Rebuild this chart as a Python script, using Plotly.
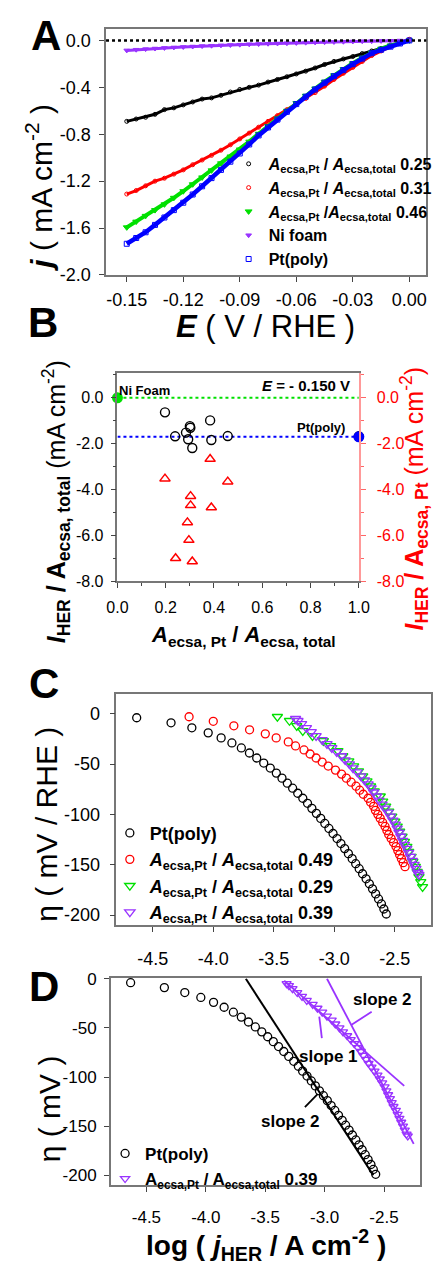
import plotly.graph_objects as go

FONT = "Arial, Liberation Sans, sans-serif"
W, H = 443, 1270

# ---------------- Panel A: polarisation curves ----------------
E_A = [-0.150, -0.145, -0.140, -0.135, -0.130, -0.125, -0.120, -0.115, -0.110, -0.105,
       -0.100, -0.095, -0.090, -0.085, -0.080, -0.075, -0.070, -0.065, -0.060, -0.055,
       -0.050, -0.045, -0.040, -0.035, -0.030, -0.025, -0.020, -0.015, -0.010, -0.005, 0.000]
j_025 = [-0.69, -0.67, -0.655, -0.63, -0.59, -0.575, -0.55, -0.525, -0.50, -0.49,
         -0.468, -0.44, -0.418, -0.40, -0.381, -0.355, -0.333, -0.31, -0.286, -0.262,
         -0.235, -0.205, -0.179, -0.158, -0.137, -0.112, -0.09, -0.068, -0.045, -0.022, 0.0]
j_031 = [-1.31, -1.28, -1.24, -1.20, -1.175, -1.14, -1.104, -1.06, -1.02, -0.98,
         -0.936, -0.89, -0.84, -0.79, -0.74, -0.69, -0.641, -0.59, -0.543, -0.495,
         -0.445, -0.39, -0.333, -0.28, -0.23, -0.18, -0.129, -0.09, -0.053, -0.02, 0.01]
j_046 = [-1.594, -1.545, -1.496, -1.447, -1.398, -1.342, -1.286, -1.227, -1.168, -1.108,
         -1.048, -0.99, -0.93, -0.863, -0.796, -0.73, -0.665, -0.60, -0.535, -0.472,
         -0.41, -0.352, -0.297, -0.245, -0.195, -0.148, -0.105, -0.07, -0.043, -0.02, 0.0]
j_ni = [-0.085, -0.079, -0.074, -0.069, -0.064, -0.060, -0.056, -0.052, -0.048, -0.045,
        -0.042, -0.039, -0.036, -0.033, -0.031, -0.028, -0.026, -0.024, -0.021, -0.019,
        -0.017, -0.015, -0.013, -0.011, -0.009, -0.007, -0.006, -0.004, -0.003, -0.001, 0.0]
j_pt = [-1.734, -1.685, -1.636, -1.573, -1.51, -1.447, -1.384, -1.314, -1.244, -1.174,
        -1.104, -1.034, -0.964, -0.887, -0.81, -0.742, -0.675, -0.609, -0.543, -0.48,
        -0.418, -0.36, -0.305, -0.253, -0.202, -0.155, -0.109, -0.08, -0.053, -0.026, 0.0]

# ---------------- Panel B: specific activity at E = -0.150 V ----------------
ratio_total = [0.197, 0.239, 0.284, 0.293, 0.300, 0.302, 0.310, 0.384, 0.389, 0.457, 1.0]
i_total = [-0.66, -1.70, -1.54, -1.83, -1.26, -1.33, -2.21, -1.01, -1.86, -1.69, -1.70]
ratio_pt = [0.197, 0.384, 0.457, 0.303, 0.303, 0.389, 0.290, 0.296, 0.241, 0.310]
i_pt = [-3.54, -2.69, -3.67, -4.30, -4.70, -4.79, -5.44, -6.21, -7.00, -7.14]
ni_foam_i = -0.03
pt_poly_i = -1.72

# ---------------- Panels C / D: Tafel plots ----------------
eta_pt = [-4, -9, -14, -19, -24, -29, -34, -39, -44, -49, -54, -59, -64, -69, -74, -79, -84, -89,
          -94, -99, -104, -109, -114, -119, -124, -129, -134, -139, -144, -149, -154, -159, -164,
          -169, -174, -179, -184, -189, -194, -199]
logj_pt = [-4.633, -4.349, -4.177, -4.042, -3.935, -3.846, -3.768, -3.701, -3.641, -3.583,
           -3.529, -3.479, -3.432, -3.388, -3.344, -3.302, -3.260, -3.221, -3.185, -3.148,
           -3.112, -3.078, -3.044, -3.010, -2.977, -2.945, -2.914, -2.883, -2.852, -2.823,
           -2.794, -2.766, -2.737, -2.710, -2.684, -2.658, -2.634, -2.610, -2.590, -2.570]

eta_049 = [-3, -7.5, -12, -16, -20, -24, -28, -32, -36, -40, -44, -48, -52, -56, -60, -64, -68, -72,
           -76, -80, -84, -88, -92, -96, -100, -104, -108, -112, -116, -120, -124, -128, -132,
           -136, -140, -144, -148, -152]
logj_049 = [-4.20, -4.00, -3.83, -3.70, -3.57, -3.48, -3.38, -3.32, -3.25, -3.20, -3.15, -3.10,
            -3.05, -2.99, -2.94, -2.90, -2.86, -2.82, -2.79, -2.76, -2.72, -2.70, -2.675, -2.66,
            -2.64, -2.62, -2.60, -2.58, -2.565, -2.55, -2.53, -2.51, -2.49, -2.475, -2.46,
            -2.445, -2.43, -2.415]

eta_029 = [-3, -7, -12, -17, -22, -27, -32, -37, -42, -47, -52, -57, -62, -67, -72, -77, -82, -87,
           -92, -97, -102, -107, -112, -117, -122, -127, -132, -137, -142, -147, -152, -157, -162,
           -167, -172]
logj_029 = [-3.47, -3.37, -3.31, -3.26, -3.18, -3.09, -3.03, -2.97, -2.93, -2.88, -2.84, -2.80,
            -2.765, -2.73, -2.70, -2.67, -2.62, -2.60, -2.575, -2.55, -2.525, -2.50, -2.48, -2.46,
            -2.44, -2.42, -2.40, -2.385, -2.365, -2.35, -2.33, -2.315, -2.30, -2.285, -2.27]

eta_039 = [-5, -7, -10, -14, -18, -22, -26, -30, -34, -38, -42, -46, -50, -54, -58, -62, -66, -70,
           -74, -78, -82, -86, -90, -94, -98, -102, -106, -110, -114, -118, -122, -126, -130,
           -134, -138, -142, -146, -150, -154, -158, -160]
logj_039 = [-3.32, -3.30, -3.27, -3.23, -3.19, -3.15, -3.10, -3.06, -3.02, -2.98, -2.94, -2.91,
            -2.875, -2.845, -2.81, -2.78, -2.75, -2.72, -2.695, -2.675, -2.65, -2.63, -2.605,
            -2.58, -2.555, -2.535, -2.515, -2.495, -2.48, -2.465, -2.45, -2.435, -2.42, -2.40,
            -2.385, -2.37, -2.355, -2.34, -2.325, -2.31, -2.30]

# Tafel fit lines (end points)
fit_pt_x, fit_pt_y = [-3.663, -2.59], [0, -200]
fit_s1_x, fit_s1_y = [-3.34, -2.33], [-2, -109]
fit_s2_x, fit_s2_y = [-2.98, -2.25], [0, -168]

# tick labels
A_xt = [-0.15, -0.12, -0.09, -0.06, -0.03, 0.0]
A_xl = ["-0.15", "-0.12", "-0.09", "-0.06", "-0.03", "0.00"]
A_yt = [0.0, -0.4, -0.8, -1.2, -1.6, -2.0]
A_yl = ["0.0", "-0.4", "-0.8", "-1.2", "-1.6", "-2.0"]
B_xt = [0.0, 0.2, 0.4, 0.6, 0.8, 1.0]
B_xl = ["0.0", "0.2", "0.4", "0.6", "0.8", "1.0"]
B_yt = [0.0, -2.0, -4.0, -6.0, -8.0]
B_yl = ["0.0", "-2.0", "-4.0", "-6.0", "-8.0"]
CD_xt = [-4.5, -4.0, -3.5, -3.0, -2.5]
CD_xl = ["-4.5", "-4.0", "-3.5", "-3.0", "-2.5"]
CD_yt = [0, -50, -100, -150, -200]
CD_yl = ["0", "-50", "-100", "-150", "-200"]

BLACK, RED, GREEN, PURPLE, BLUE = "#000000", "#ff0000", "#00e000", "#9933ff", "#0000ff"


def fx(p):
    return p / W


def fy(p):
    return 1 - p / H


def axis(dom, rng, tv, tt, fs, anchor, standoff, **kw):
    d = dict(domain=dom, range=rng, tickmode="array", tickvals=tv, ticktext=tt,
             ticks="outside", ticklen=5, tickwidth=1, tickcolor="#444",
             showline=True, linecolor="#777", linewidth=1.5, mirror=True,
             showgrid=False, zeroline=False, anchor=anchor, fixedrange=True,
             ticklabelstandoff=standoff,
             tickfont=dict(family=FONT, size=fs, color="black"))
    d.update(kw)
    return d


fig = go.Figure()


def sub_a(sep=" / ", italic=True):
    a = "<i>A</i>" if italic else "A"
    return f"{a}<sub>ecsa,Pt</sub>{sep}{a}<sub>ecsa,total</sub>"


# ---- Panel A traces ----
seriesA = [
    (j_025, BLACK, "circle-open", 4, 3, sub_a() + " 0.25"),
    (j_031, RED, "circle-open", 4, 3, sub_a() + " 0.31"),
    (j_046, GREEN, "triangle-down", 6, 4, sub_a(sep=" /") + " 0.46"),
    (j_ni, PURPLE, "triangle-down", 5, 3, "Ni foam"),
    (j_pt, BLUE, "square-open", 5, 4.5, "Pt(poly)"),
]
for ys, col, sym, ms, lw, name in seriesA:
    fig.add_trace(go.Scatter(x=E_A, y=ys, mode="lines+markers", xaxis="x", yaxis="y",
                             line=dict(color=col, width=lw),
                             marker=dict(color=col, symbol=sym, size=ms, line=dict(color=col, width=1)),
                             showlegend=False, cliponaxis=False))
for ys, col, sym, ms, lw, name in seriesA:
    fig.add_trace(go.Scatter(x=[None], y=[None], mode="markers", xaxis="x", yaxis="y",
                             marker=dict(color=col, symbol=sym, size=ms, line=dict(color=col, width=1)),
                             name=name, legend="legend"))

# ---- Panel B traces ----
fig.add_trace(go.Scatter(x=[0, 1], y=[ni_foam_i, ni_foam_i], mode="lines", xaxis="x2", yaxis="y2",
                         line=dict(color=GREEN, width=2, dash="dot"), showlegend=False))
fig.add_trace(go.Scatter(x=[0, 1], y=[pt_poly_i, pt_poly_i], mode="lines", xaxis="x2", yaxis="y2",
                         line=dict(color=BLUE, width=2, dash="dot"), showlegend=False))
fig.add_trace(go.Scatter(x=ratio_total, y=i_total, mode="markers", xaxis="x2", yaxis="y2",
                         marker=dict(symbol="circle-open", size=9, color=BLACK, line=dict(width=1.4)),
                         showlegend=False, cliponaxis=False))
fig.add_trace(go.Scatter(x=[0], y=[ni_foam_i], mode="markers", xaxis="x2", yaxis="y2",
                         marker=dict(symbol="circle", size=11, color=GREEN), showlegend=False,
                         cliponaxis=False))
fig.add_trace(go.Scatter(x=[1], y=[pt_poly_i], mode="markers", xaxis="x2", yaxis="y2",
                         marker=dict(symbol="circle", size=11, color=BLUE), showlegend=False,
                         cliponaxis=False))
fig.add_trace(go.Scatter(x=ratio_pt, y=i_pt, mode="markers", xaxis="x2", yaxis="y5",
                         marker=dict(symbol="triangle-up-open", size=9, color=RED, line=dict(width=1.5)),
                         showlegend=False, cliponaxis=False))

# ---- Panel C traces ----
seriesC = [
    (logj_pt, eta_pt, BLACK, "circle-open", 8, "Pt(poly)"),
    (logj_049, eta_049, RED, "circle-open", 8, sub_a() + " 0.49"),
    (logj_029, eta_029, GREEN, "triangle-down-open", 9, sub_a() + " 0.29"),
    (logj_039, eta_039, PURPLE, "triangle-down-open", 9, sub_a() + " 0.39"),
]
for xs, ys, col, sym, ms, name in seriesC:
    fig.add_trace(go.Scatter(x=xs, y=ys, mode="markers", xaxis="x3", yaxis="y3",
                             marker=dict(symbol=sym, size=ms, color=col, line=dict(width=1.3)),
                             name=name, legend="legend2", cliponaxis=False))

# ---- Panel D traces ----
fig.add_trace(go.Scatter(x=fit_pt_x, y=fit_pt_y, mode="lines", xaxis="x4", yaxis="y4",
                         line=dict(color=BLACK, width=2), showlegend=False))
fig.add_trace(go.Scatter(x=fit_s1_x, y=fit_s1_y, mode="lines", xaxis="x4", yaxis="y4",
                         line=dict(color=PURPLE, width=1.8), showlegend=False))
fig.add_trace(go.Scatter(x=fit_s2_x, y=fit_s2_y, mode="lines", xaxis="x4", yaxis="y4",
                         line=dict(color=PURPLE, width=1.8), showlegend=False))
fig.add_trace(go.Scatter(x=logj_pt, y=eta_pt, mode="markers", xaxis="x4", yaxis="y4",
                         marker=dict(symbol="circle-open", size=8, color=BLACK, line=dict(width=1.3)),
                         name="Pt(poly)", legend="legend3", cliponaxis=False))
fig.add_trace(go.Scatter(x=logj_039, y=eta_039, mode="markers", xaxis="x4", yaxis="y4",
                         marker=dict(symbol="triangle-down-open", size=8, color=PURPLE, line=dict(width=1.3)),
                         name=sub_a(italic=False) + " 0.39", legend="legend3", cliponaxis=False))

# ---- axes ----
fig.update_layout(
    xaxis=axis([fx(100), fx(437)], [-0.161, 0.009], A_xt, A_xl, 18, "y", 3),
    yaxis=axis([fy(270), fy(20)], [-2.0, 0.1], A_yt, A_yl, 18, "x", 5),
    xaxis2=axis([fx(112), fx(366)], [0, 1.0], B_xt, B_xl, 16, "y2", 6,
                minor=dict(ticks="outside", ticklen=3, dtick=0.1, tick0=0, tickcolor="#444")),
    yaxis2=axis([fy(581), fy(370)], [-8.0, 1.03], B_yt, B_yl, 16, "x2", 4, mirror=False,
                minor=dict(ticks="outside", ticklen=3, dtick=1, tick0=0, tickcolor="#444")),
    yaxis5=axis([fy(581), fy(370)], [-8.0, 1.03], B_yt, B_yl, 16, "x2", 8, side="right",
                overlaying="y2", mirror=False, linecolor="#ff9999", tickcolor="#ff6666",
                tickfont=dict(family=FONT, size=16, color=RED),
                minor=dict(ticks="outside", ticklen=3, dtick=1, tick0=0, tickcolor="#ff6666")),
    xaxis3=axis([fx(111), fx(442)], [-4.8, -2.2], CD_xt, CD_xl, 18, "y3", 12),
    yaxis3=axis([fy(930), fy(695)], [-210, 20], CD_yt, CD_yl, 18, "x3", 6),
    xaxis4=axis([fx(105), fx(430)], [-4.8, -2.2], CD_xt, CD_xl, 17, "y4", 11),
    yaxis4=axis([fy(1194), fy(984)], [-210, 0.5], CD_yt, CD_yl, 17, "x4", 4),
)


def legend_box(x_px, y_px, fs):
    return dict(x=fx(x_px), y=fy(y_px), xanchor="left", yanchor="top",
                bgcolor="rgba(0,0,0,0)", borderwidth=0, tracegroupgap=0,
                font=dict(family=FONT, size=fs, color="black", weight="bold"))


fig.update_layout(
    legend=legend_box(229, 140, 16),
    legend2=legend_box(104, 818, 18),
    legend3=legend_box(99, 1144, 17),
)

# ---- annotations ----
ann = []


def text(x_px, y_px, t, size, angle=0, color="black", bold=False):
    ann.append(dict(x=fx(x_px), y=fy(y_px), xref="paper", yref="paper", text=t, showarrow=False,
                    textangle=angle, xanchor="center", yanchor="middle",
                    font=dict(family=FONT, size=size, color=color,
                              weight="bold" if bold else "normal")))


# panel letters
text(37, 27, "A", 42, bold=True)
text(34, 318, "B", 42, bold=True)
text(35, 685, "C", 42, bold=True)
text(35, 992, "D", 42, bold=True)

# axis titles
text(30, 182, "<b><i>j</i></b> ( mA cm<sup>-2</sup> )", 30, angle=-90)
text(268, 322, "<b><i>E</i></b> ( V / RHE )", 31)
text(245, 637, "<b><i>A</i><sub>ecsa, Pt</sub> / <i>A</i><sub>ecsa, total</sub></b>", 22)
text(47, 500, "<b><i>I</i><sub>HER</sub> / A<sub>ecsa, total</sub></b> (mA cm<sup>-2</sup>)", 25, angle=-90)
text(424, 497, "<b><i>I</i><sub>HER</sub> / A<sub>ecsa, Pt</sub></b> (mA cm<sup>-2</sup>)", 25, angle=-90,
     color=RED)
text(37, 828, "η ( mV / RHE )", 30, angle=-90)
text(40, 1117, "η ( mV )", 30, angle=-90)
text(268, 1255, "<b>log ( <i>j</i><sub>HER</sub> / A cm<sup>-2</sup> )</b>", 28)

# panel B labels
text(141, 387, "<b>Ni Foam</b>", 13)
text(310, 382, "<b><i>E</i> = - 0.150 V</b>", 15)
text(326, 425, "<b>Pt(poly)</b>", 13)

# panel D labels
for xv, yv, t in [(-2.51, -21, "slope 2"), (-2.965, -79, "slope 1"), (-3.29, -145, "slope 2")]:
    ann.append(dict(x=xv, y=yv, xref="x4", yref="y4", text=f"<b>{t}</b>", showarrow=False,
                    font=dict(family=FONT, size=17, color="black")))
fig.update_layout(annotations=ann)

shapes = [
    dict(type="line", xref="x domain", yref="y", x0=0, x1=1, y0=0, y1=0,
         line=dict(color="black", width=2.5, dash="dot")),
    dict(type="line", xref="x4", yref="y4", x0=-2.604, y0=-33.5, x1=-2.773, y1=-46.9,
         line=dict(color=PURPLE, width=1.8)),
    dict(type="line", xref="x4", yref="y4", x0=-3.045, y0=-38.5, x1=-3.023, y1=-60.3,
         line=dict(color=PURPLE, width=1.8)),
    dict(type="line", xref="x4", yref="y4", x0=-3.166, y0=-130.7, x1=-3.059, y1=-117.3,
         line=dict(color=BLACK, width=1.8)),
]
fig.update_layout(shapes=shapes)

fig.update_layout(width=W, height=H, margin=dict(l=0, r=0, t=0, b=0),
                  paper_bgcolor="white", plot_bgcolor="white",
                  font=dict(family=FONT, color="black"))

fig.write_html("out.html")
